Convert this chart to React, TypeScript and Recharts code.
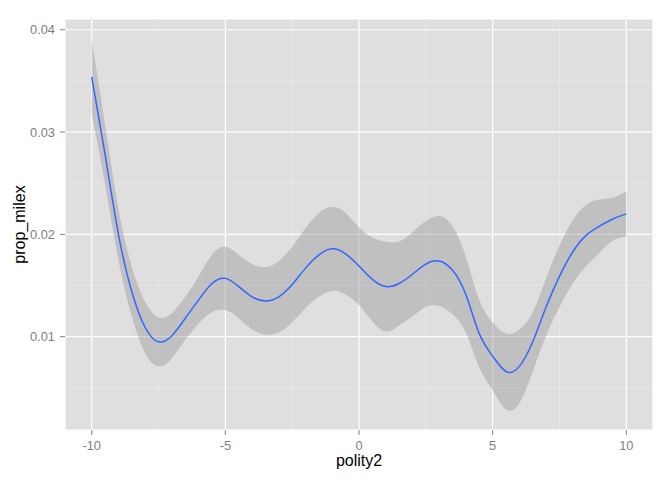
import { Area, CartesianGrid, ComposedChart, Line, XAxis, YAxis } from "recharts";

// loess fit of prop_milex on polity2, every half unit
const polity2 = [
  -10, -9.5, -9, -8.5, -8, -7.5, -7, -6.5, -6, -5.5, -5, -4.5, -4, -3.5, -3, -2.5, -2, -1.5, -1, -0.5,
  0, 0.5, 1, 1.5, 2, 2.5, 3, 3.5, 4, 4.5, 5, 5.5, 6, 6.5, 7, 7.5, 8, 8.5, 9, 9.5, 10,
];
const fitted = [
  0.0354, 0.0278, 0.02, 0.0144, 0.0109, 0.0095, 0.0101, 0.0118, 0.0136, 0.0152, 0.0157, 0.0149, 0.0139,
  0.0135, 0.0139, 0.0151, 0.0167, 0.018, 0.0186, 0.0181, 0.0169, 0.0156, 0.0149, 0.0152, 0.0161, 0.0171,
  0.0174, 0.0165, 0.0141, 0.0103, 0.0081, 0.0066, 0.0071, 0.0095, 0.0129, 0.0159, 0.0183, 0.0199, 0.0208,
  0.0215, 0.022,
];
const lower = [
  0.0318, 0.0249, 0.0175, 0.012, 0.0084, 0.0071, 0.0079, 0.0097, 0.0113, 0.0124, 0.0126, 0.0118, 0.0107,
  0.0102, 0.0104, 0.0114, 0.0128, 0.0139, 0.0145, 0.0141, 0.0131, 0.0115, 0.0105, 0.0111, 0.012, 0.0129,
  0.013, 0.0122, 0.0104, 0.007, 0.0048, 0.0029, 0.0035, 0.0066, 0.0101, 0.0129, 0.0152, 0.0169, 0.0182,
  0.0194, 0.0198,
];
const upper = [
  0.039, 0.0307, 0.0225, 0.0168, 0.0134, 0.0119, 0.0123, 0.0139, 0.0159, 0.018, 0.0188, 0.018, 0.0171,
  0.0168, 0.0174, 0.0188, 0.0206, 0.0221, 0.0227, 0.0221, 0.0207, 0.0197, 0.0193, 0.0193, 0.0202, 0.0213,
  0.0218, 0.0208, 0.0178, 0.0136, 0.0114, 0.0103, 0.0107, 0.0124, 0.0157, 0.0189, 0.0214, 0.0229, 0.0234,
  0.0236, 0.0242,
];

const xBreaks = [-10, -5, 0, 5, 10];
const xMinor = [-7.5, -2.5, 2.5, 7.5];
const yBreaks = [0.01, 0.02, 0.03, 0.04];
const yMinor = [0.005, 0.015, 0.025, 0.035];

const data = polity2.map((x, i) => ({
  x,
  fit: fitted[i],
  band: [lower[i], upper[i]],
}));

const FONT = "'Liberation Sans', Arial, Helvetica, sans-serif";
const tickStyle = { fontSize: 12.8, fill: "#7f7f7f", fontFamily: FONT };

function YTitle(props: any) {
  const vb = props.viewBox;
  const cx = vb.x + 20;
  const cy = vb.y + vb.height / 2;
  return (
    <text
      x={cx}
      y={cy}
      transform={`rotate(-90 ${cx} ${cy})`}
      textAnchor="middle"
      fontSize={16}
      fontFamily={FONT}
      fill="#000"
    >
      prop_milex
    </text>
  );
}

export default function App() {
  return (
    <div style={{ position: "absolute", left: 0, top: 0, background: "#fff" }}>
      <ComposedChart width={672} height={480} data={data} margin={{ top: 19, right: 19, bottom: 0, left: 5 }}>
        <CartesianGrid
          fill="#dfdfdf"
          stroke="#ececec"
          strokeWidth={0.6}
          horizontalValues={yMinor}
          verticalValues={xMinor}
        />
        <CartesianGrid stroke="#ffffff" strokeWidth={1.2} />
        <XAxis
          type="number"
          dataKey="x"
          domain={[-11, 11]}
          ticks={xBreaks}
          allowDataOverflow
          axisLine={false}
          tickSize={5}
          tickMargin={6}
          tickLine={{ stroke: "#7f7f7f" }}
          tick={tickStyle}
          height={50}
          label={{ value: "polity2", position: "insideBottom", offset: 14, fontSize: 16, fill: "#000", fontFamily: FONT }}
        />
        <YAxis
          type="number"
          domain={[0.00088, 0.04105]}
          ticks={yBreaks}
          allowDataOverflow
          axisLine={false}
          tickSize={5}
          tickMargin={5}
          tickLine={{ stroke: "#7f7f7f" }}
          tick={tickStyle}
          tickFormatter={(v: number) => v.toFixed(2)}
          width={60}
          label={{ content: YTitle }}
        />
        <Area
          dataKey="band"
          type="natural"
          stroke="none"
          fill="#929292"
          fillOpacity={0.4}
          isAnimationActive={false}
        />
        <Line
          dataKey="fit"
          type="natural"
          stroke="#3366ff"
          strokeWidth={1.5}
          dot={false}
          isAnimationActive={false}
        />
      </ComposedChart>
    </div>
  );
}
